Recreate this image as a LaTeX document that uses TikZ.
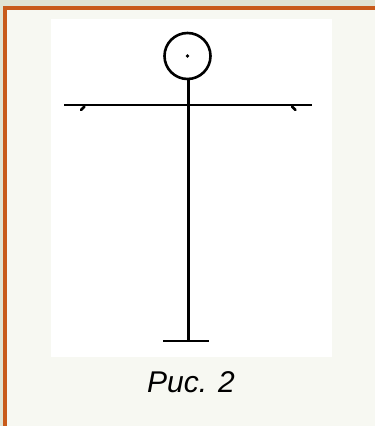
\documentclass[tikz,border=0pt]{standalone}
\usepackage{fontspec}
\setmainfont{Liberation Sans}
\definecolor{outerbg}{HTML}{E0E3D3}
\definecolor{cardbg}{HTML}{F7F8F2}
\definecolor{frameorange}{HTML}{C85A1A}
\tikzset{
  fig/.style={line width=2.6pt, draw=black},
  tick/.style={line width=2.6pt, draw=black, line cap=round}
}
\begin{document}
\begin{tikzpicture}[x=1pt,y=-1pt]
\useasboundingbox (0,0) rectangle (375,426);
\fill[outerbg] (0,0) rectangle (375,426);
\fill[cardbg] (3,6) rectangle (375,426);
\fill[frameorange] (3,6) rectangle (375,10);
\fill[frameorange] (3,6) rectangle (7,426);
\fill[white] (51,19) rectangle (332,357);
% figure
\node[fig, circle, minimum size=46pt, inner sep=0pt] (head) at (187.5,56) {};
\fill (head.center) circle (1.9pt);
\coordinate (foot) at (188.5,341);
\coordinate (barL) at (64,105);
\coordinate (barR) at (312,105);
\coordinate (baseL) at (163,341);
\coordinate (baseR) at (209,341);
\draw[fig] (head.south -| foot) -- (foot);
\draw[fig] (barL) -- (barR);
\draw[fig] (baseL) -- (baseR);
\coordinate (tl1) at (84.5,106.5);
\coordinate (tl2) at (81,110);
\coordinate (tr1) at (292,106.5);
\coordinate (tr2) at (295.5,110);
\draw[tick] (tl1) -- (tl2);
\draw[tick] (tr1) -- (tr2);
\node[font=\fontsize{30}{33}\selectfont\itshape, anchor=base] (cap) at (191,392) {Рис. 2};
\end{tikzpicture}
\end{document}
